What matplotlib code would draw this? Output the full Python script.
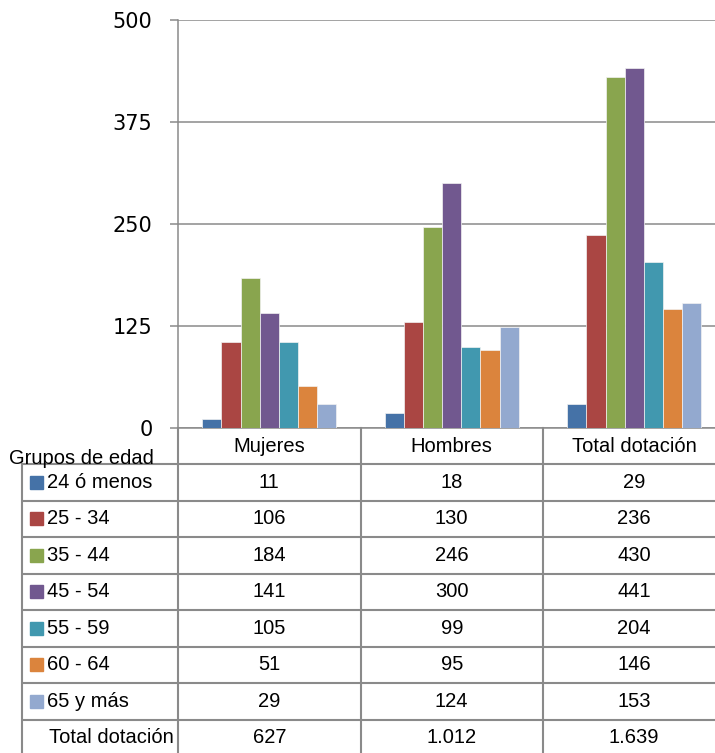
import numpy as np
import matplotlib
matplotlib.use('Agg')
import matplotlib.pyplot as plt
from matplotlib.patches import Rectangle

# datos
grupos = ['24 ó menos', '25 - 34', '35 - 44', '45 - 54', '55 - 59', '60 - 64', '65 y más']
columnas = ['Mujeres', 'Hombres', 'Total dotación']
mujeres = [11, 106, 184, 141, 105, 51, 29]
hombres = [18, 130, 246, 300, 99, 95, 124]
total = [29, 236, 430, 441, 204, 146, 153]
totales = [627, 1012, 1639]
yticks = [0, 125, 250, 375, 500]
colores = ['#4572A7', '#AA4643', '#89A54E', '#71588F', '#4198AF', '#DB843D', '#93A9CF']

W, H = 715, 753
gris = '#8a8a8a'
fig = plt.figure(figsize=(W/100, H/100), dpi=100)

# grafico de barras
x0, x1 = 178, 725.5
ytop, ybot = 20, 428
ax = fig.add_axes([x0/W, 1-ybot/H, (x1-x0)/W, (ybot-ytop)/H])
datos = np.array([mujeres, hombres, total])
ancho = 0.105
for i in range(len(grupos)):
    ax.bar(np.arange(3) + (i-3)*ancho, datos[:, i], ancho, color=colores[i],
           edgecolor='#f2f2f2', linewidth=0.5, zorder=3)
ax.set_xlim(-0.5, 2.5)
ax.set_ylim(0, 500)
ax.set_yticks(yticks)
ax.set_xticks([])
ax.yaxis.grid(True, color=gris, linewidth=1.1)
for s in ['top', 'right']:
    ax.spines[s].set_visible(False)
ax.spines['left'].set_color(gris)
ax.spines['left'].set_linewidth(1.1)
ax.spines['bottom'].set_color(gris)
ax.spines['bottom'].set_linewidth(1.1)
ax.tick_params(axis='y', length=5.8, width=1.1, color=gris, labelsize=15, pad=12.5)
for t in ax.get_yticklabels():
    t.set_family('DejaVu Sans')

# tabla de datos
tax = fig.add_axes([0, 0, 1, 1])
tax.set_xlim(0, W)
tax.set_ylim(H, 0)
tax.axis('off')
fuente = dict(family='Liberation Sans', fontsize=14.5, color='black')

bordes_x = [22, 178, 360.5, 543, 725.5]
y_head = 464
alto = 36.5
nfil = len(grupos) + 1
for k in range(nfil + 1):
    yy = y_head + k*alto
    tax.plot([bordes_x[0], W], [yy, yy], color=gris, lw=1.5, solid_capstyle='butt')
tax.plot([bordes_x[0], bordes_x[0]], [y_head, H], color=gris, lw=1.5)
for xx in bordes_x[1:4]:
    tax.plot([xx, xx], [ybot, H], color=gris, lw=1.5)

for j, col in enumerate(columnas):
    cx = (bordes_x[j+1] + bordes_x[j+2]) / 2
    tax.text(cx, (ybot + y_head)/2, col, ha='center', va='center', **fuente)

tax.text(9, 458, 'Grupos de edad', ha='left', va='center', **fuente)

for i, g in enumerate(grupos):
    cy = y_head + (i + 0.5)*alto
    tax.add_patch(Rectangle((30, cy-6.5), 13, 13, color=colores[i]))
    tax.text(47, cy, g, ha='left', va='center', **fuente)
    for j in range(3):
        cx = (bordes_x[j+1] + bordes_x[j+2]) / 2
        tax.text(cx, cy, str(datos[j, i]), ha='center', va='center', **fuente)

cy = y_head + (nfil - 0.5)*alto
tax.text(49, cy, 'Total dotación', ha='left', va='center', **fuente)
for j in range(3):
    cx = (bordes_x[j+1] + bordes_x[j+2]) / 2
    tax.text(cx, cy, f'{totales[j]:,}'.replace(',', '.'), ha='center', va='center', **fuente)

fig.savefig('out.png', dpi=100)
